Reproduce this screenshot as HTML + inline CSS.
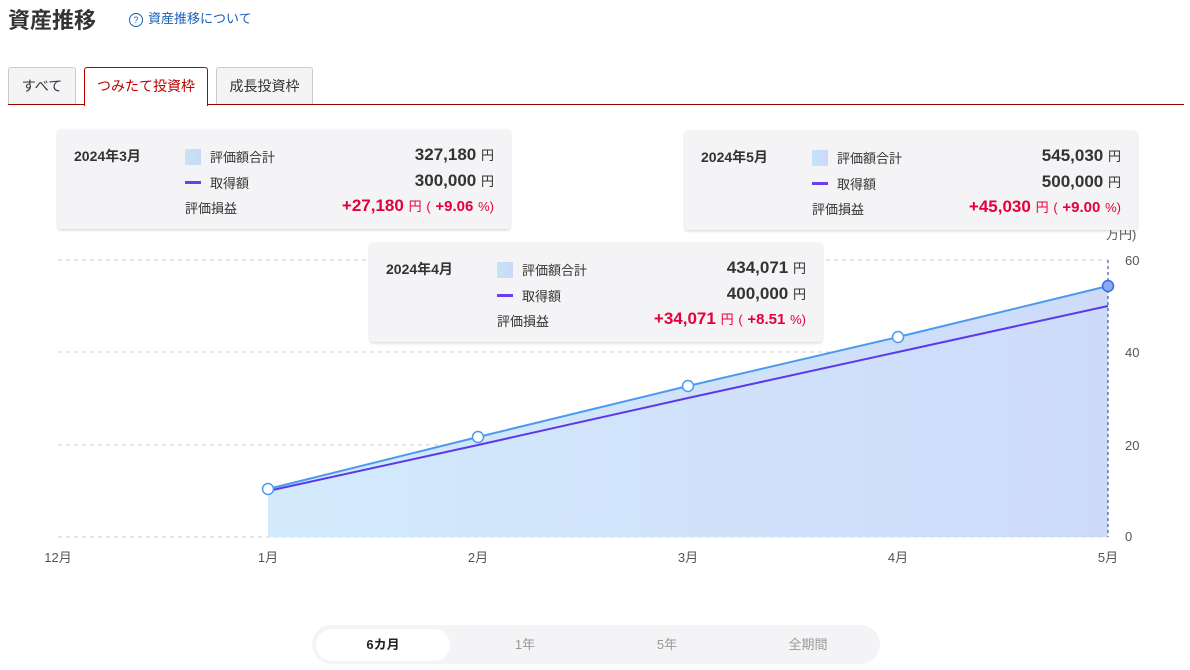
<!DOCTYPE html>
<html><head><meta charset="utf-8"><style>
body{margin:0;width:1190px;height:670px;background:#fff;font-family:"Liberation Sans","Noto Sans CJK JP",sans-serif;position:relative;overflow:hidden;color:#333}
.abs{position:absolute}
.tab{position:absolute;top:67px;height:37px;border:1px solid #ccc;border-bottom:none;background:#f4f4f6;border-radius:3px 3px 0 0;font-size:14px;line-height:37px;text-align:center;color:#333}
.tip{position:absolute;width:452px;height:99px;background:#f4f4f6;box-shadow:0 1px 3px rgba(0,0,0,.18);border-radius:3px;font-size:13px}
.tip .d{position:absolute;left:16px;top:16px;font-weight:bold;font-size:14px}
.tip .l{position:absolute;left:127px;color:#333}
.tip .v{position:absolute;right:16px;font-weight:bold;font-size:17px;color:#333;text-align:right}
.tip .v span{font-weight:normal;font-size:13px}
.tip .v span.p{font-weight:bold;font-size:15px}
.sq{display:inline-block;width:16px;height:16px;background:linear-gradient(90deg,#c5e4f7,#cbd8f8);vertical-align:-3px;margin-right:9px}
.ln{display:inline-block;width:16px;height:3px;background:#6a3ff0;vertical-align:4px;margin-right:9px}
.red{color:#e4003a!important}
</style></head><body>
<div class="abs" style="left:8px;top:3px;font-size:22px;font-weight:bold;color:#333">資産推移</div>
<div class="abs" style="left:129px;top:8px;font-size:13px;color:#1a5fb4"><span style="display:inline-block;width:12px;height:12px;border:1px solid #1a5fb4;border-radius:50%;font-size:9px;line-height:12px;text-align:center;vertical-align:0px;margin-right:5px">?</span>資産推移について</div>
<div class="tab" style="left:8px;width:66px">すべて</div>
<div class="tab" style="left:84px;width:122px;background:#fff;border-color:#b00;color:#b00;height:38px;z-index:2">つみたて投資枠</div>
<div class="tab" style="left:216px;width:95px">成長投資枠</div>
<div class="abs" style="left:8px;top:104px;width:1176px;height:1px;background:#900"></div>

<svg class="abs" style="left:0;top:0" width="1190" height="670">
<defs><linearGradient id="g" x1="0" x2="1"><stop offset="0" stop-color="#d3eafc"/><stop offset="1" stop-color="#cddbf9"/></linearGradient></defs>
<g stroke="#ccc" stroke-dasharray="4,4"><line x1="58" x2="1108" y1="260" y2="260"/><line x1="58" x2="1108" y1="352" y2="352"/><line x1="58" x2="1108" y1="445" y2="445"/><line x1="58" x2="1108" y1="537" y2="537"/></g>
<polygon fill="url(#g)" points="268,489 478,437 688,386 898,337 1108,286 1108,537 268,537"/>
<line x1="1108" x2="1108" y1="260" y2="537" stroke="#1a3a8a" stroke-dasharray="3,3"/>
<polyline fill="none" stroke="#4a9af0" stroke-width="2" points="268,489 478,437 688,386 898,337 1108,286"/>
<polyline fill="none" stroke="#5a3ae8" stroke-width="2" points="268,491 478,445 688,398 898,352 1108,306"/>
<g fill="#fff" stroke="#4a9af0" stroke-width="1.5"><circle cx="268" cy="489" r="5.5"/><circle cx="478" cy="437" r="5.5"/><circle cx="688" cy="386" r="5.5"/><circle cx="898" cy="337" r="5.5"/></g>
<circle cx="1108" cy="286" r="5.5" fill="#8aa8f4" stroke="#3a6ae8" stroke-width="1.5"/>
<g font-size="13" fill="#555" font-family="Liberation Sans,Noto Sans CJK JP,sans-serif">
<text x="1125" y="265">60</text><text x="1125" y="357">40</text><text x="1125" y="450">20</text><text x="1125" y="541">0</text>
<text x="1106" y="239">万円)</text>
<text x="58" y="562" text-anchor="middle">12月</text><text x="268" y="562" text-anchor="middle">1月</text><text x="478" y="562" text-anchor="middle">2月</text><text x="688" y="562" text-anchor="middle">3月</text><text x="898" y="562" text-anchor="middle">4月</text><text x="1108" y="562" text-anchor="middle">5月</text>
</g>
</svg>

<div class="tip" style="left:58px;top:130px">
<div class="d">2024年3月</div>
<div class="l" style="top:17px"><span class="sq"></span>評価額合計</div><div class="v" style="top:15px">327,180 <span>円</span></div>
<div class="l" style="top:43px"><span class="ln"></span>取得額</div><div class="v" style="top:41px">300,000 <span>円</span></div>
<div class="l" style="top:68px">評価損益</div><div class="v red" style="top:66px">+27,180 <span>円</span> <span>(</span> <span class="p">+9.06</span> <span>%)</span></div>
</div>
<div class="tip" style="left:685px;top:131px">
<div class="d">2024年5月</div>
<div class="l" style="top:17px"><span class="sq"></span>評価額合計</div><div class="v" style="top:15px">545,030 <span>円</span></div>
<div class="l" style="top:43px"><span class="ln"></span>取得額</div><div class="v" style="top:41px">500,000 <span>円</span></div>
<div class="l" style="top:68px">評価損益</div><div class="v red" style="top:66px">+45,030 <span>円</span> <span>(</span> <span class="p">+9.00</span> <span>%)</span></div>
</div>
<div class="tip" style="left:370px;top:243px">
<div class="d">2024年4月</div>
<div class="l" style="top:17px"><span class="sq"></span>評価額合計</div><div class="v" style="top:15px">434,071 <span>円</span></div>
<div class="l" style="top:43px"><span class="ln"></span>取得額</div><div class="v" style="top:41px">400,000 <span>円</span></div>
<div class="l" style="top:68px">評価損益</div><div class="v red" style="top:66px">+34,071 <span>円</span> <span>(</span> <span class="p">+8.51</span> <span>%)</span></div>
</div>

<div class="abs" style="left:312px;top:625px;width:568px;height:39px;background:#f4f4f6;border-radius:20px"></div>
<div class="abs" style="left:316px;top:629px;width:134px;height:32px;background:#fff;border-radius:16px;font-weight:bold;font-size:13px;line-height:32px;text-align:center;color:#222">6カ月</div>
<div class="abs" style="left:500px;top:629px;width:50px;line-height:32px;font-size:13px;color:#999;text-align:center">1年</div>
<div class="abs" style="left:642px;top:629px;width:50px;line-height:32px;font-size:13px;color:#999;text-align:center">5年</div>
<div class="abs" style="left:778px;top:629px;width:60px;line-height:32px;font-size:13px;color:#999;text-align:center">全期間</div>
</body></html>
